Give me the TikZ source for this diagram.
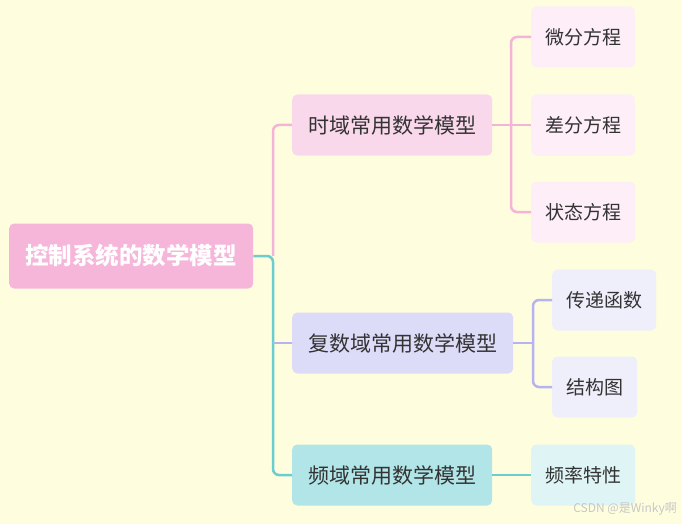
\documentclass[tikz,border=0pt]{standalone}
\usepackage{fontspec}
\setmainfont{Noto Sans CJK SC}
\usepackage{tikz}
\usetikzlibrary{positioning,calc}
\definecolor{paper}{HTML}{FEFEDF}
\definecolor{ink}{HTML}{333333}
\definecolor{rootpk}{HTML}{F5B6DA}
\definecolor{pkmid}{HTML}{F9D8EC}
\definecolor{pkleaf}{HTML}{FDEEF7}
\definecolor{lvmid}{HTML}{DCDBF8}
\definecolor{lvleaf}{HTML}{EFEEFB}
\definecolor{tlmid}{HTML}{B1E5E7}
\definecolor{tlleaf}{HTML}{DEF4F5}
\definecolor{pkline}{HTML}{F4B4D8}
\definecolor{lvline}{HTML}{B6B3F0}
\definecolor{tlline}{HTML}{6CCDD0}
\tikzset{
  rootbox/.style={rounded corners=5pt, draw=none, fill=rootpk, text=white, font=\fontsize{23.5}{26}\selectfont\bfseries, inner xsep=16pt, minimum width=244pt, minimum height=65pt},
  midbox/.style={rounded corners=5pt, draw=none, text=ink, font=\fontsize{21}{24}\selectfont, inner xsep=16pt, minimum height=61pt},
  leafbox/.style={rounded corners=5pt, draw=none, text=ink, font=\fontsize{19}{22}\selectfont, inner xsep=14pt, minimum height=61pt},
  link/.style={line width=2.5pt, rounded corners=6pt},
}

\begin{document}
\begin{tikzpicture}[x=1pt, y=-1pt]
  \fill[paper] (0,0) rectangle (682,524);
  \useasboundingbox (0,0) rectangle (682,524);
  % root and branches
  \node[rootbox, anchor=west] (root) at (9,256) {控制系统的数学模型};
  \node[midbox, anchor=west, fill=pkmid] (time) at (292,125) {时域常用数学模型};
  \node[midbox, anchor=west, fill=lvmid] (cplx) at (292,343) {复数域常用数学模型};
  \node[midbox, anchor=west, fill=tlmid] (freq) at (292,475) {频域常用数学模型};
  % leaves
  \node[leafbox, anchor=west, fill=pkleaf] (diff) at (531,37) {微分方程};
  \node[leafbox, anchor=west, fill=pkleaf] (dlt) at (531,125) {差分方程};
  \node[leafbox, anchor=west, fill=pkleaf] (state) at (531,212) {状态方程};
  \node[leafbox, anchor=west, fill=lvleaf] (tf) at (552,300) {传递函数};
  \node[leafbox, anchor=west, fill=lvleaf] (blk) at (552,387) {结构图};
  \node[leafbox, anchor=west, fill=tlleaf] (fr) at (531,475) {频率特性};
  % junctions
  \coordinate (jr) at (273,256);
  \coordinate (jt) at (511,125);
  \coordinate (jc) at (533,343);
  % connectors
  \draw[link, draw=pkline] (jr) |- (time.west);
  \draw[link, draw=tlline] (root.east) -- (jr) |- (freq.west);
  \draw[link, draw=lvline] (jr |- cplx.west) -- (cplx.west);
  \draw[link, draw=pkline] (time.east) -- (dlt.west);
  \foreach \l in {diff,state}{\draw[link, draw=pkline] (jt) |- (\l.west);}
  \draw[link, draw=lvline] (cplx.east) -- (jc);
  \foreach \l in {tf,blk}{\draw[link, draw=lvline] (jc) |- (\l.west);}
  \draw[link, draw=tlline] (freq.east) -- (fr.west);
  % watermark
  \node[anchor=east, text=black!22, font=\fontsize{12}{14}\selectfont, inner sep=0pt] (mark) at (677,509) {CSDN @是Winky啊};
\end{tikzpicture}
\end{document}
